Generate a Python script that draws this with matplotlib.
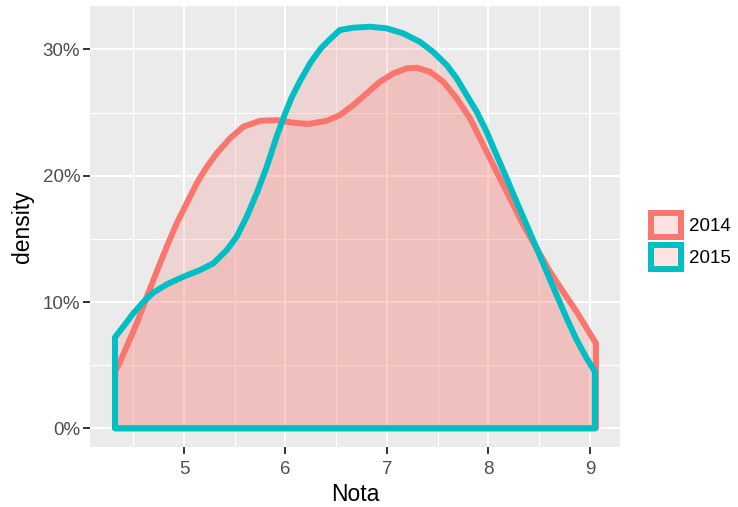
import numpy as np
import matplotlib.pyplot as plt
from matplotlib.patches import Patch
from matplotlib.ticker import MultipleLocator, FuncFormatter

plt.rcParams['font.family'] = ['Liberation Sans', 'DejaVu Sans']

# density curves
nota_2014 = [4.322, 4.363, 4.435, 4.534, 4.633, 4.731, 4.83, 4.928, 5.026, 5.125, 5.224,
             5.322, 5.453, 5.584, 5.749, 5.913, 6.077, 6.225, 6.406, 6.537, 6.668, 6.8,
             6.931, 7.062, 7.194, 7.293, 7.424, 7.555, 7.687, 7.818, 7.949, 8.08, 8.212,
             8.343, 8.475, 8.606, 8.737, 8.869, 8.968, 9.059]
dens_2014 = [0.045, 0.0515, 0.0646, 0.083, 0.104, 0.124, 0.1438, 0.1623, 0.178, 0.194, 0.207,
             0.2177, 0.2296, 0.2388, 0.2435, 0.244, 0.242, 0.241, 0.2435, 0.248, 0.256, 0.2652,
             0.2744, 0.281, 0.285, 0.2855, 0.2823, 0.2744, 0.2613, 0.2455, 0.2243, 0.2032, 0.1821,
             0.161, 0.1425, 0.124, 0.108, 0.0923, 0.0792, 0.0673]

nota_2015 = [4.320, 4.402, 4.50, 4.599, 4.697, 4.83, 4.993, 5.158, 5.289, 5.42, 5.519,
             5.618, 5.716, 5.815, 5.913, 5.995, 6.061, 6.15, 6.25, 6.35, 6.45, 6.537,
             6.668, 6.833, 6.997, 7.161, 7.325, 7.456, 7.588, 7.687, 7.785, 7.884, 7.982,
             8.08, 8.179, 8.277, 8.376, 8.475, 8.573, 8.672, 8.771, 8.869, 8.968, 9.049]
dens_2015 = [0.072, 0.0805, 0.091, 0.100, 0.1074, 0.114, 0.120, 0.1253, 0.1306, 0.141, 0.1517,
             0.1675, 0.186, 0.207, 0.231, 0.249, 0.262, 0.276, 0.290, 0.301, 0.309, 0.3154,
             0.3172, 0.318, 0.3167, 0.3127, 0.306, 0.298, 0.2877, 0.2771, 0.2639, 0.2507, 0.2348,
             0.2164, 0.198, 0.1794, 0.161, 0.1425, 0.124, 0.1055, 0.087, 0.070, 0.0554, 0.0448]

years = ['2014', '2015']
colors = ['#F8766D', '#00BFC4']
fill = (248/255, 118/255, 109/255, 0.2)

fig = plt.figure(figsize=(7.38, 5.07), dpi=100)
ax = fig.add_axes([90/738, 1-447/507, 530/738, 441/507])
ax.set_facecolor('#EBEBEB')

for xs, ys, c in [(nota_2014, dens_2014, colors[0]), (nota_2015, dens_2015, colors[1])]:
    px = [xs[0]] + xs + [xs[-1]]
    py = [0] + ys + [0]
    ax.fill(px, py, facecolor=fill, edgecolor=c, linewidth=4.3, joinstyle='round', zorder=3)

ax.set_xlim(4.074, 9.296)
ax.set_ylim(-0.0148, 0.3344)
ax.xaxis.set_major_locator(MultipleLocator(1))
ax.xaxis.set_minor_locator(MultipleLocator(0.5))
ax.yaxis.set_major_locator(MultipleLocator(0.1))
ax.yaxis.set_minor_locator(MultipleLocator(0.05))
ax.yaxis.set_major_formatter(FuncFormatter(lambda v, p: '%d%%' % round(v * 100)))

ax.grid(which='major', color='white', linewidth=1.5, zorder=0)
ax.grid(which='minor', color='white', linewidth=0.75, zorder=0)
ax.set_axisbelow(True)
for s in ax.spines.values():
    s.set_visible(False)
ax.tick_params(which='major', length=5, width=1.4, color='#333333',
               labelsize=13.5, labelcolor='#4D4D4D', pad=2)
ax.tick_params(axis='x', which='major', pad=5)
ax.tick_params(which='minor', length=0)

ax.set_xlabel('Nota', fontsize=16.5, labelpad=4)
ax.set_ylabel('density', fontsize=16.5, labelpad=6)

handles = [Patch(facecolor=fill, edgecolor=c, linewidth=4.3, label=y) for y, c in zip(years, colors)]
fig.legend(handles=handles, loc='center left', bbox_to_anchor=(642/738, 1-241/507),
           frameon=False, fontsize=13.5, handlelength=1.57, handleheight=1.57,
           handletextpad=0.45, labelspacing=0.43, borderpad=0)

fig.savefig('out.png', dpi=100)
